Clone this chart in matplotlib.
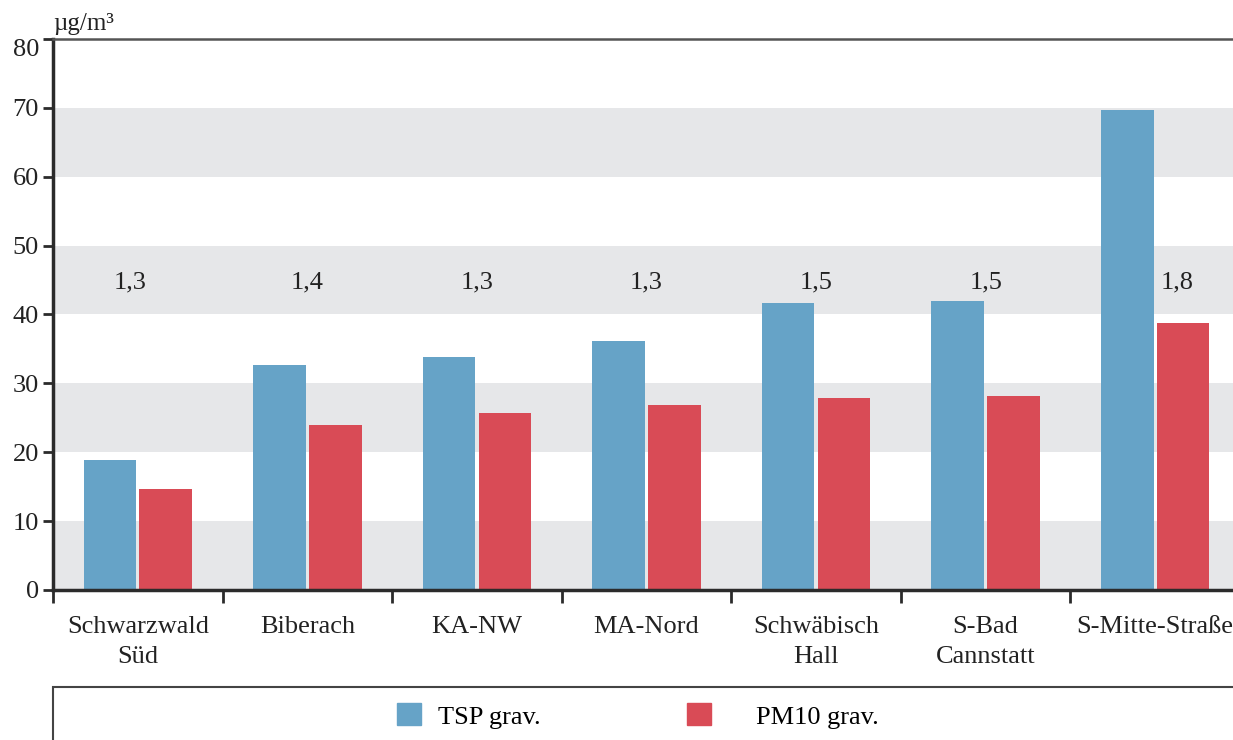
import numpy as np
import matplotlib.pyplot as plt
from matplotlib.patches import Patch, Rectangle

stations = ["Schwarzwald\nSüd", "Biberach", "KA-NW", "MA-Nord",
            "Schwäbisch\nHall", "S-Bad\nCannstatt", "S-Mitte-Straße"]
tsp = [18.9, 32.7, 33.9, 36.1, 41.6, 41.9, 69.7]
pm10 = [14.7, 24.0, 25.7, 26.8, 27.9, 28.2, 38.7]
ratios = ["1,3", "1,4", "1,3", "1,3", "1,5", "1,5", "1,8"]

plt.rcParams['font.family'] = ['Liberation Serif', 'DejaVu Serif']
plt.rcParams['font.size'] = 19

blue = '#66a3c7'
red = '#d94b56'
band = '#e6e7e9'
dark = '#2b2b2b'

fig = plt.figure(figsize=(12.33, 7.4), dpi=100)
ax = fig.add_axes([53/1233, 1 - 590/740, (1240 - 53)/1233, (590 - 39)/740])

for lo in range(0, 80, 20):
    ax.axhspan(lo, lo + 10, color=band, zorder=0, lw=0)

x = np.arange(len(stations))
w = 0.31
ax.bar(x - 0.165, tsp, w, color=blue, zorder=2)
ax.bar(x + 0.165, pm10, w, color=red, zorder=2)

for i, r in enumerate(ratios):
    xi = i - 0.045 if i == 0 else i
    if i == len(ratios) - 1:
        xi = i + 0.13
    ax.text(xi, 44.6, r, ha='center', va='center', fontsize=19, color='#222')

ax.set_xlim(-0.5, len(stations) - 0.5)
ax.set_ylim(0, 80)
ax.set_yticks(range(0, 90, 10))
ax.set_xticks(x)
ax.set_xticklabels(stations, linespacing=1.42)
ax.set_xticks(np.arange(-0.5, len(stations), 1), minor=True)
ax.tick_params(axis='x', which='major', length=0, pad=19, colors='#222')
ax.tick_params(axis='x', which='minor', length=9, width=2, color=dark, direction='out')
ax.tick_params(axis='y', length=7, width=2, color=dark, pad=3, labelcolor='#222')
ax.get_yticklabels()[-1].set_verticalalignment('top')

for s in ['left', 'bottom']:
    ax.spines[s].set_linewidth(2.5)
    ax.spines[s].set_color(dark)
ax.spines['top'].set_linewidth(1.8)
ax.spines['top'].set_color('#555555')
ax.spines['right'].set_visible(False)

ax.text(0, 1.008, "µg/m³", transform=ax.transAxes, ha='left', va='bottom',
        fontsize=18, color='#222')

# legend box
fig.patches.append(Rectangle((53/1233, -0.05), 1.2, 0.05 + (740 - 687)/740,
                             transform=fig.transFigure, fill=False,
                             edgecolor='#444444', lw=1.5))
leg_kw = dict(ncol=1, frameon=False, handlelength=0.9, handleheight=0.9,
              fontsize=19, borderpad=0, borderaxespad=0)
fig.legend(handles=[Patch(color=blue, label='TSP grav.')], loc='center left',
           bbox_to_anchor=(397/1233, 1 - 716/740), handletextpad=0.65, **leg_kw)
fig.legend(handles=[Patch(color=red, label='PM10 grav.')], loc='center left',
           bbox_to_anchor=(687/1233, 1 - 716/740), handletextpad=1.7, **leg_kw)

plt.savefig('out.png', dpi=100)
